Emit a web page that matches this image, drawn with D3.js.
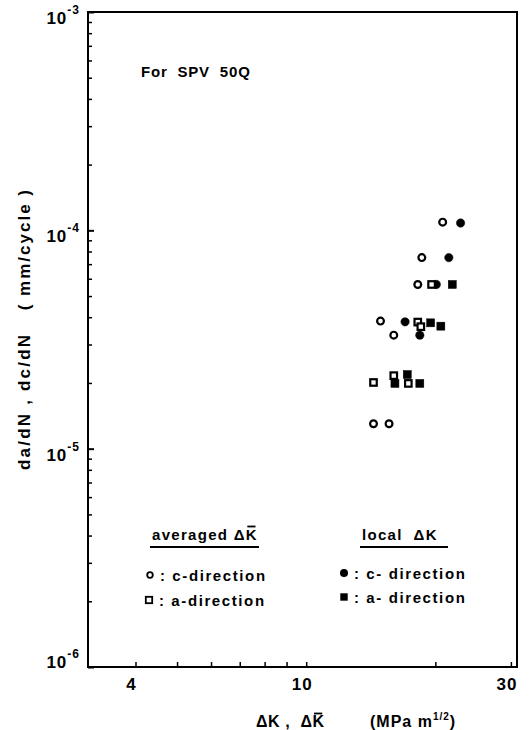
<!DOCTYPE html>
<html>
<head>
<meta charset="utf-8">
<script src="https://cdn.jsdelivr.net/npm/d3@7"></script>
<style>
  body { margin: 0; background: #fff; }
  text { font-family: "Liberation Sans", Arial, sans-serif; font-weight: bold; fill: #000; }
</style>
</head>
<body>
<div id="chart"></div>
<script>
// values: dK in MPa m^1/2, rate in mm/cycle
const avgC_K    = [20.8, 18.6, 18.2, 14.9, 16.0, 14.35, 15.6];
const avgC_rate = [1.09e-4, 0.75e-4, 0.565e-4, 0.384e-4, 0.331e-4, 0.130e-4, 0.130e-4];
const avgA_K    = [19.6, 18.2, 18.5, 14.35, 16.0, 17.3];
const avgA_rate = [0.565e-4, 0.380e-4, 0.362e-4, 0.201e-4, 0.216e-4, 0.199e-4];
const locC_K    = [22.9, 21.5, 20.1, 17.0, 18.4];
const locC_rate = [1.08e-4, 0.75e-4, 0.565e-4, 0.381e-4, 0.331e-4];
const locA_K    = [21.9, 19.5, 20.6, 16.1, 17.2, 18.4];
const locA_rate = [0.565e-4, 0.377e-4, 0.364e-4, 0.199e-4, 0.2185e-4, 0.199e-4];

const xTicks = [4, 5, 6, 7, 8, 9, 10, 20, 30];
const xTickLabels = {4: "4", 10: "10", 30: "30"};
const yMajor = [1e-6, 1e-5, 1e-4, 1e-3];
const yMajorExp = ["-6", "-5", "-4", "-3"];

const width = 530, height = 730;
const margin = {top: 12, right: 13, bottom: 63, left: 88};

const svg = d3.select("#chart").append("svg")
    .attr("width", width)
    .attr("height", height);

let x = d3.scaleLog().domain([3.1, 31]).range([margin.left, width - margin.right]);
let y = d3.scaleLog().domain([1e-6, 1e-3]).range([height - margin.bottom, margin.top]);

// minor ticks 2..9 per decade on the y axis
let yMinor = [];
for (let e = -6; e < -3; e++) {
  for (let m = 2; m <= 9; m++) yMinor.push(m * Math.pow(10, e));
}

svg.append("g")
  .attr("transform", `translate(${margin.left},0)`)
  .call(d3.axisLeft(y).tickValues(yMinor).tickSize(-4).tickFormat(""))
  .call(g => g.select(".domain").remove())
  .selectAll("line").attr("stroke", "#000").attr("stroke-width", 1.5);

svg.append("g")
  .attr("transform", `translate(${margin.left},0)`)
  .call(d3.axisLeft(y).tickValues(yMajor).tickSize(-6).tickFormat(""))
  .call(g => g.select(".domain").remove())
  .selectAll("line").attr("stroke", "#000").attr("stroke-width", 2);

svg.append("g")
  .attr("transform", `translate(0,${height - margin.bottom})`)
  .call(d3.axisBottom(x).tickValues(xTicks).tickSize(-5).tickFormat(""))
  .call(g => g.select(".domain").remove())
  .selectAll("line").attr("stroke", "#000").attr("stroke-width", 1.5);

// frame
svg.append("rect")
  .attr("x", x.range()[0]).attr("y", y.range()[1])
  .attr("width", x.range()[1] - x.range()[0])
  .attr("height", y.range()[0] - y.range()[1])
  .attr("fill", "none").attr("stroke", "#000").attr("stroke-width", 2);

// y tick labels 10^n
yMajor.forEach((v, i) => {
  let dy = i === 0 ? 1 : 12;
  let t = svg.append("text")
    .attr("x", margin.left - 8)
    .attr("y", y(v) + dy)
    .attr("text-anchor", "end")
    .style("font-size", "17px")
    .style("letter-spacing", "1px");
  t.append("tspan").text("10");
  t.append("tspan").attr("dy", -10).style("font-size", "12px").text(yMajorExp[i]);
});

// x tick labels
Object.keys(xTickLabels).forEach(k => {
  svg.append("text")
    .attr("x", x(+k) - 4)
    .attr("y", 690)
    .attr("text-anchor", "middle")
    .style("font-size", "17px")
    .style("letter-spacing", "1px")
    .text(xTickLabels[k]);
});

// data points
let pts = (K, R) => K.map((k, i) => ({k: k, r: R[i]}));

let drawCircles = (data, filled) => {
  svg.append("g").selectAll("circle")
    .data(data).enter().append("circle")
      .attr("cx", d => x(d.k))
      .attr("cy", d => y(d.r))
      .attr("r", filled ? 4.2 : 3.4)
      .attr("fill", filled ? "#000" : "#fff")
      .attr("stroke", "#000")
      .attr("stroke-width", filled ? 0.5 : 2.2);
};
let drawSquares = (data, filled) => {
  let s = filled ? 8 : 6.5;
  svg.append("g").selectAll("rect")
    .data(data).enter().append("rect")
      .attr("x", d => x(d.k) - s / 2)
      .attr("y", d => y(d.r) - s / 2)
      .attr("width", s).attr("height", s)
      .attr("fill", filled ? "#000" : "#fff")
      .attr("stroke", "#000")
      .attr("stroke-width", filled ? 0.5 : 2.2);
};

drawSquares(pts(locA_K, locA_rate), true);
drawCircles(pts(locC_K, locC_rate), true);
drawCircles(pts(avgC_K, avgC_rate), false);
drawSquares(pts(avgA_K, avgA_rate), false);

// title inside plot
svg.append("text")
  .attr("x", 141).attr("y", 77)
  .style("font-size", "15px")
  .style("letter-spacing", "0.8px")
  .style("white-space", "pre")
  .text("For  SPV  50Q");

// legend headers
let header = (x0, x1, str) => {
  let t = svg.append("text")
    .attr("x", x0).attr("y", 540)
    .style("font-size", "15px")
    .style("letter-spacing", "1.3px")
    .style("white-space", "pre")
    .text(str);
  svg.append("line")
    .attr("x1", x0 - 2).attr("x2", x1)
    .attr("y1", 547).attr("y2", 547)
    .attr("stroke", "#000").attr("stroke-width", 2);
  return t;
};
let hAvg = header(152, 259, "averaged \u0394K");
header(362, 448, "local  \u0394K");

// overbar on a K: find its box and draw a short line above it
let barOver = (textSel, idx) => {
  let b = textSel.node().getExtentOfChar(idx);
  svg.append("line")
    .attr("x1", b.x + 1.5).attr("x2", b.x + b.width - 2.5)
    .attr("y1", b.y + 0.5).attr("y2", b.y + 0.5)
    .attr("stroke", "#000").attr("stroke-width", 1.8);
};
barOver(hAvg, hAvg.text().length - 1);

// legend rows
let legendRow = (cx, cy, kind, str) => {
  if (kind === "oc") svg.append("circle").attr("cx", cx).attr("cy", cy).attr("r", 2.8)
    .attr("fill", "#fff").attr("stroke", "#000").attr("stroke-width", 1.8);
  if (kind === "fc") svg.append("circle").attr("cx", cx).attr("cy", cy).attr("r", 4).attr("fill", "#000");
  if (kind === "os") svg.append("rect").attr("x", cx - 3.2).attr("y", cy - 3.2).attr("width", 6.4).attr("height", 6.4)
    .attr("fill", "#fff").attr("stroke", "#000").attr("stroke-width", 1.8);
  if (kind === "fs") svg.append("rect").attr("x", cx - 3.7).attr("y", cy - 3.7).attr("width", 7.4).attr("height", 7.4).attr("fill", "#000");
  svg.append("text")
    .attr("x", cx + 10).attr("y", cy + 6)
    .style("font-size", "15px")
    .style("letter-spacing", "1.6px")
    .style("white-space", "pre")
    .text(str);
};
legendRow(150, 575, "oc", ": c-direction");
legendRow(149, 600, "os", ": a-direction");
legendRow(344, 573, "fc", ": c- direction");
legendRow(344, 597, "fs", ": a- direction");

// axis titles
let xl = svg.append("text")
  .attr("x", 256).attr("y", 727)
  .style("font-size", "16px")
  .style("letter-spacing", "0.6px")
  .style("white-space", "pre")
  .text("\u0394K ,  \u0394K");
barOver(xl, xl.text().length - 1);

let unit = svg.append("text")
  .attr("x", 370).attr("y", 727)
  .style("font-size", "16px")
  .style("letter-spacing", "1px")
  .style("white-space", "pre");
unit.append("tspan").text("(MPa m");
unit.append("tspan").attr("dy", -7).style("font-size", "10px").text("1/2");
unit.append("tspan").attr("dy", 7).text(")");

svg.append("text")
  .attr("transform", "translate(30,470) rotate(-90)")
  .style("font-size", "17px")
  .style("letter-spacing", "2.2px")
  .style("white-space", "pre")
  .text("da/dN , dc/dN");

svg.append("text")
  .attr("transform", "translate(30,188) rotate(-90)")
  .attr("text-anchor", "end")
  .style("font-size", "17px")
  .style("letter-spacing", "2px")
  .style("white-space", "pre")
  .text("( mm/cycle )");
</script>
</body>
</html>
